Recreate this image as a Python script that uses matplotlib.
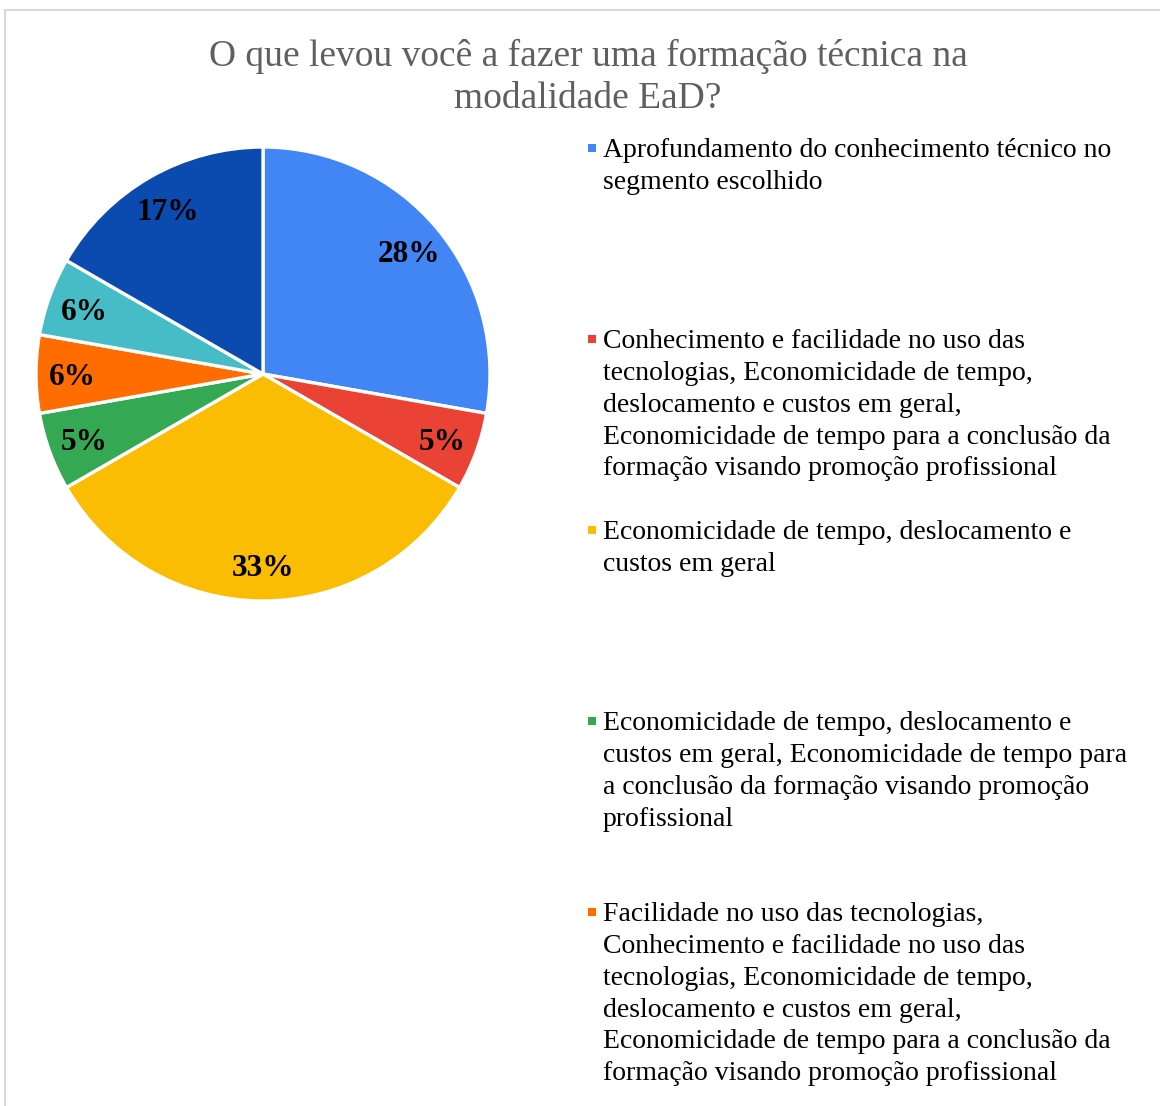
import matplotlib
matplotlib.use("Agg")
import matplotlib.pyplot as plt
from matplotlib.patches import Rectangle
from matplotlib.lines import Line2D

title = "O que levou você a fazer uma formação técnica na\nmodalidade EaD?"
# response counts per category (slice sizes)
counts = [5, 1, 6, 1, 1, 1, 3]
# percentage labels as printed on the chart
pct_labels = ["28%", "5%", "33%", "5%", "6%", "6%", "17%"]
colors = ["#4285F4", "#EA4335", "#FBBC04", "#34A853", "#FF6D01", "#46BDC6", "#0B4AAE"]
legend_labels = [
    "Aprofundamento do conhecimento técnico no\nsegmento escolhido",
    "Conhecimento e facilidade no uso das\ntecnologias, Economicidade de tempo,\ndeslocamento e custos em geral,\nEconomicidade de tempo para a conclusão da\nformação visando promoção profissional",
    "Economicidade de tempo, deslocamento e\ncustos em geral",
    "Economicidade de tempo, deslocamento e\ncustos em geral, Economicidade de tempo para\na conclusão da formação visando promoção\nprofissional",
    "Facilidade no uso das tecnologias,\nConhecimento e facilidade no uso das\ntecnologias, Economicidade de tempo,\ndeslocamento e custos em geral,\nEconomicidade de tempo para a conclusão da\nformação visando promoção profissional",
]

W, H = 1160, 1106
fig = plt.figure(figsize=(W / 100, H / 100), dpi=100)
fig.patch.set_facecolor("white")
FONT = "Liberation Serif"

# frame (chart container, cropped on right/bottom)
fig.add_artist(Line2D([5 / W, 1.0], [1 - 10 / H, 1 - 10 / H], transform=fig.transFigure,
                      color="#D9D9D9", lw=1.5))
fig.add_artist(Line2D([5 / W, 5 / W], [0.0, 1 - 10 / H], transform=fig.transFigure,
                      color="#D9D9D9", lw=1.5))

# title
fig.text(588 / W, 1 - 39 / H, title, ha="center", va="top", multialignment="center",
         fontsize=27, family=FONT, color="#5F5F5F", linespacing=1.29)

# pie
cx, cy, r = 263, 374, 227
ax = fig.add_axes([(cx - r) / W, 1 - (cy + r) / H, 2 * r / W, 2 * r / H])
lab_iter = iter(pct_labels)
wedges, texts, autotexts = ax.pie(
    counts, colors=colors, startangle=90, counterclock=False,
    autopct=lambda p: next(lab_iter), pctdistance=0.84,
    wedgeprops=dict(edgecolor="white", linewidth=2.4),
    textprops=dict(family=FONT, fontsize=22.5, fontweight="bold", color="black"),
)
for t in autotexts:
    t.set_va("center_baseline")
ax.set_xlim(-1, 1)
ax.set_ylim(-1, 1)
ax.set_aspect("equal")
ax.axis("off")

# legend (manual, evenly spaced entries)
x_mark, x_text, y0, dy = 588, 603, 138, 191
for i, lab in enumerate(legend_labels):
    y = y0 + i * dy
    fig.text(x_text / W, 1 - y / H, lab, ha="left", va="top", fontsize=20,
             family=FONT, color="black", linespacing=1.36)
    fig.add_artist(Rectangle((x_mark / W, 1 - (y + 14) / H), 8 / W, 8 / H,
                             transform=fig.transFigure, facecolor=colors[i],
                             edgecolor="none"))

fig.savefig("out.png", dpi=100, facecolor="white")
